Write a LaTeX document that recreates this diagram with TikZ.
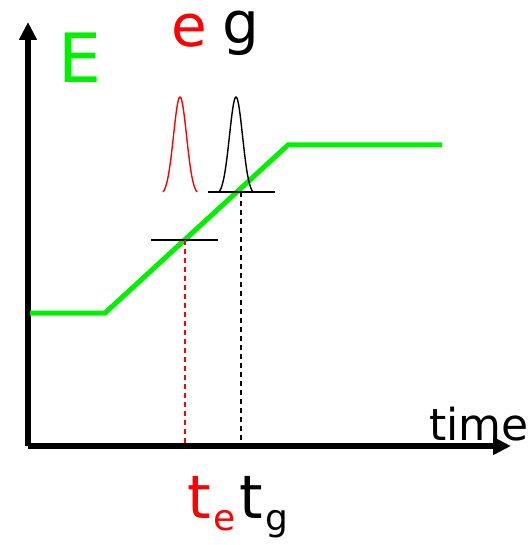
\documentclass[tikz,border=0pt]{standalone}
\usepackage{fontspec}
\setmainfont{DejaVu Sans}
\usetikzlibrary{arrows.meta}
\definecolor{lgreen}{RGB}{0,240,0}
\begin{document}
\begin{tikzpicture}[x=1pt,y=-1pt,
  axis/.style={line width=5.5pt,-{Triangle[length=18pt,width=17pt]}},
  level/.style={line width=1.5pt},
  peak/.style={line width=1.4pt,smooth},
  drop/.style={line width=1.2pt,dash pattern=on 5pt off 4pt},
  lbl/.style={inner sep=0pt,anchor=base}]
\useasboundingbox (0,0) rectangle (531,545);
% axes
\coordinate (O) at (28,446);
\coordinate (ytip) at (28,22);
\coordinate (xtip) at (511,446);
\draw[axis] (O) -- (ytip);
\draw[axis] (O) -- (xtip);
% energy curve
\coordinate (g1) at (30,313);
\coordinate (g2) at (105,313);
\coordinate (g3) at (288,145);
\coordinate (g4) at (442,145);
\draw[lgreen,line width=5pt] (g1) -- (g2) -- (g3) -- (g4);
% levels
\coordinate (le1) at (151,240);
\coordinate (le2) at (218,240);
\coordinate (lg1) at (208,192);
\coordinate (lg2) at (275,192);
\draw[level] (le1) -- (le2);
\draw[level] (lg1) -- (lg2);
% drop lines
\coordinate (te) at (185,240);
\coordinate (te0) at (185,446);
\coordinate (tg) at (241,192);
\coordinate (tg0) at (241,446);
\draw[drop,red] (te) -- (te0);
\draw[drop,black] (tg) -- (tg0);
% peaks
\draw[peak,red] plot[domain=-17:17,samples=70] ({180+\x},{192-98.2*(exp(-(\x*\x)/85)-0.0334)});
\draw[peak,black] plot[domain=-17:17,samples=70] ({236+\x},{192-98.2*(exp(-(\x*\x)/85)-0.0334)});
% labels
\node[lbl,text=lgreen,font=\fontsize{68}{68}\selectfont] (E) at (80,83) {E};
\node[lbl,text=red,font=\fontsize{58}{58}\selectfont] (le) at (189,47) {e};
\node[lbl,font=\fontsize{58}{58}\selectfont] (lg) at (241,44) {g};
\node[lbl,font=\fontsize{44}{44}\selectfont] (time) at (479,440) {time};
\node[lbl,text=red,font=\fontsize{60}{60}\selectfont] (t1) at (199,518) {t};
\node[lbl,text=red,font=\fontsize{36}{36}\selectfont,anchor=base west] (s1) at ([xshift=2pt]t1.base east) {\raisebox{-12pt}{e}};
\node[lbl,font=\fontsize{60}{60}\selectfont] (t2) at (251,518) {t};
\node[lbl,font=\fontsize{36}{36}\selectfont,anchor=base west] (s2) at ([xshift=2pt]t2.base east) {\raisebox{-12pt}{g}};
\end{tikzpicture}
\end{document}
